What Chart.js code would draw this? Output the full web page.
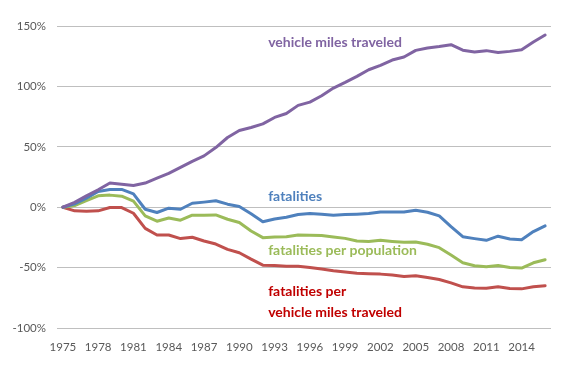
<!DOCTYPE html>
<html>
<head>
<meta charset="utf-8">
<script src="https://cdn.jsdelivr.net/npm/chart.js@4/dist/chart.umd.min.js"></script>
<style>
  html, body { margin: 0; padding: 0; background: #fff; }
</style>
</head>
<body>
<canvas id="lineCanvas" width="576" height="367"></canvas>
<script>
// years on the x axis
const years = [1975, 1976, 1977, 1978, 1979, 1980, 1981, 1982, 1983, 1984, 1985, 1986, 1987, 1988,
  1989, 1990, 1991, 1992, 1993, 1994, 1995, 1996, 1997, 1998, 1999, 2000, 2001, 2002, 2003, 2004,
  2005, 2006, 2007, 2008, 2009, 2010, 2011, 2012, 2013, 2014, 2015, 2016];

// % change since 1975
const vehicleMiles = [0, 4, 9.4, 14.4, 20, 19, 18, 20, 24, 28, 33, 38, 42.5, 49.4, 57.7, 63.5, 66, 69,
  74.3, 77.6, 84.3, 87, 92.3, 98.6, 103.3, 108.3, 113.8, 117.4, 121.8, 124.3, 129.8, 131.8, 133,
  134.5, 130, 128.5, 129.6, 128, 129, 130.4, 136.7, 142.5];
const fatalities = [0, 2.8, 7.5, 13, 14.7, 14.7, 11, -1.7, -4.4, -0.8, -1.7, 3.3, 4.2, 5.3, 2.5, 0.6,
  -5.5, -12, -9.7, -8.3, -6.1, -5.3, -5.8, -6.6, -6.1, -5.8, -5.3, -3.9, -3.9, -3.9, -2.5, -4.2,
  -7.2, -16, -24.4, -26, -27.4, -24, -26.3, -26.9, -20.2, -15.5];
const perPopulation = [0, 1.4, 5.5, 9.4, 10, 9.1, 5, -7.2, -11.6, -8.9, -10.8, -6.6, -6.6, -6.4, -10,
  -12.7, -19.7, -25.2, -24.7, -24.4, -23, -23.3, -23.5, -24.7, -25.8, -28, -28.3, -27.4, -28.3,
  -29, -28.8, -30.7, -33.5, -39.6, -46, -48.5, -49.3, -48.2, -49.9, -50.4, -46, -43.5];
const perVehicleMiles = [0, -3, -3.3, -3, -0.3, -0.3, -5, -17.5, -23, -23, -26, -24.9, -28, -30.5,
  -34.9, -37.7, -43, -48, -48.2, -48.8, -48.8, -49.9, -51.2, -52.6, -53.7, -54.6, -55.1, -55.4,
  -56.2, -57.3, -56.8, -58.2, -59.8, -62.6, -65.9, -66.8, -67, -65.9, -67.3, -67.6, -65.9, -65];

// y axis ticks
const yTicks = [-100, -50, 0, 50, 100, 150];

// series labels drawn inside the plot: [text lines, colour, x index, y value]
const seriesLabels = [
  [["vehicle miles traveled"], "#8064A2", 17.45, 136.5],
  [["fatalities"], "#4F81BD", 17.45, 8.5],
  [["fatalities per population"], "#9BBB59", 17.45, -36],
  [["fatalities per", "vehicle miles traveled"], "#C00000", 17.45, -70]
];

const labelPlugin = {
  id: 'seriesLabels',
  afterDatasetsDraw(chart) {
    const ctx = chart.ctx;
    const xs = chart.scales.x, ys = chart.scales.y;
    ctx.save();
    ctx.font = 'bold 14px Lato';
    ctx.textAlign = 'left';
    ctx.textBaseline = 'middle';
    seriesLabels.forEach(([lines, color, xi, yv]) => {
      ctx.fillStyle = color;
      const x = xs.getPixelForValue(xi);
      const y = ys.getPixelForValue(yv);
      lines.forEach((t, i) => ctx.fillText(t, x, y + i * 21));
    });
    ctx.restore();
  }
};

function line(data, color) {
  return {
    data: data,
    borderColor: color,
    borderWidth: 3,
    pointRadius: 0,
    tension: 0,
    borderJoinStyle: 'round',
    borderCapStyle: 'round',
    fill: false
  };
}

const lineCanvas = document.getElementById("lineCanvas");

new Chart(lineCanvas, {
  type: "line",
  data: {
    labels: years,
    datasets: [
      line(vehicleMiles, "#8064A2"),
      line(fatalities, "#4F81BD"),
      line(perPopulation, "#9BBB59"),
      line(perVehicleMiles, "#C0504D")
    ]
  },
  options: {
    responsive: false,
    animation: false,
    layout: { padding: { top: 26, right: 25, left: 0, bottom: 0 } },
    plugins: { legend: { display: false }, tooltip: { enabled: false } },
    scales: {
      x: {
        offset: true,
        grid: { display: false, drawTicks: false },
        border: { display: false },
        ticks: {
          autoSkip: false,
          maxRotation: 0,
          padding: 12,
          color: "#595959",
          font: { family: "Lato", size: 11.5 },
          callback: function (v, i) { return (years[i] - 1975) % 3 === 0 ? String(years[i]) : ''; }
        },
        afterFit: s => { s.height = 39; }
      },
      y: {
        min: -100,
        max: 150,
        afterBuildTicks: s => { s.ticks = yTicks.map(v => ({ value: v })); },
        grid: { color: "#BFBFBF", lineWidth: 1, drawTicks: false },
        border: { display: false },
        ticks: {
          padding: 11,
          color: "#595959",
          font: { family: "Lato", size: 11.5 },
          callback: v => v + '%'
        },
        afterFit: s => { s.width = 57; }
      }
    }
  },
  plugins: [labelPlugin]
});
</script>
</body>
</html>
